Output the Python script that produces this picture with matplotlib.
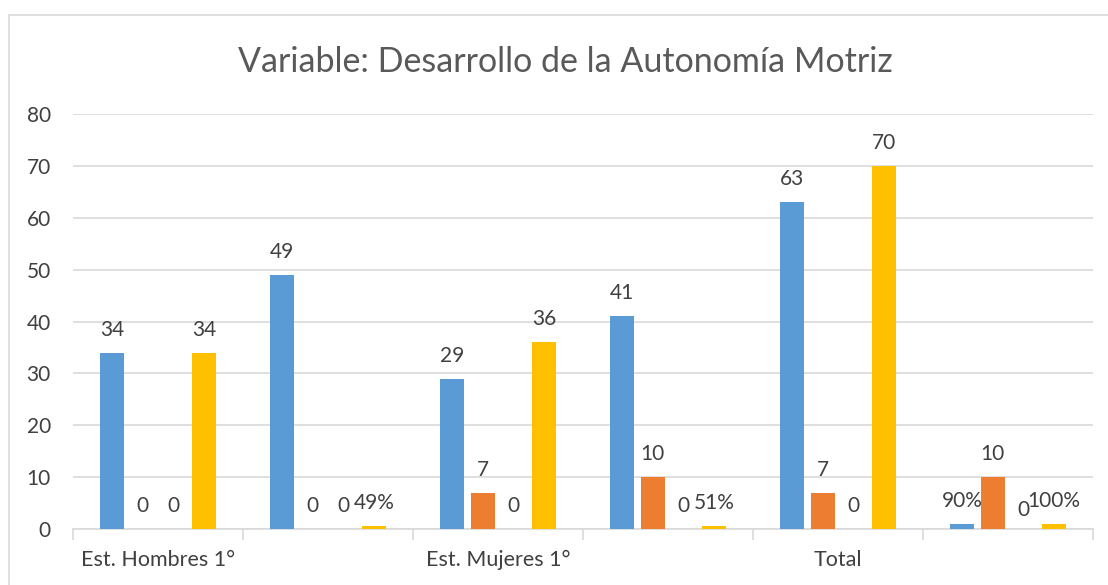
import matplotlib
matplotlib.use("Agg")
import matplotlib.pyplot as plt
from matplotlib.patches import Rectangle
import numpy as np

plt.rcParams['font.family'] = ['Lato', 'DejaVu Sans']

categories = ["Est. Hombres 1°", "", "Est. Mujeres 1°", "", "Total", ""]
series_names = ["Serie 1", "Serie 2", "Serie 3", "Serie 4"]
serie1 = [34, 49, 29, 41, 63, 0.90]
serie2 = [0, 0, 7, 10, 7, 10]
serie3 = [0, 0, 0, 0, 0, 0]
serie4 = [34, 0.49, 36, 0.51, 70, 1.00]
labels1 = ["34", "49", "29", "41", "63", "90%"]
labels2 = ["0", "0", "7", "10", "7", "10"]
labels3 = ["0", "0", "0", "0", "0", "0"]
labels4 = ["34", "49%", "36", "51%", "70", "100%"]
yticks = [0, 10, 20, 30, 40, 50, 60, 70, 80]
title = "Variable: Desarrollo de la Autonomía Motriz"

colors = ["#5B9BD5", "#ED7D31", "#A5A5A5", "#FFC000"]
series = [serie1, serie2, serie3, serie4]
labels = [labels1, labels2, labels3, labels4]

fs = 15
text_color = "#404040"

fig = plt.figure(figsize=(11.08, 5.85), dpi=100)
fig.patches.append(Rectangle((9/1108, -0.01), 1.2, 1 - 15/585 + 0.01,
                             transform=fig.transFigure, fill=False,
                             edgecolor="#D9D9D9", linewidth=1.2))
ax = fig.add_axes([73/1108, 1 - 529/585, (1093 - 73)/1108, (529 - 114)/585])

x = np.arange(len(categories))
slot = 30.7 / 170
width = 24 / 170
for i, (vals, labs, c) in enumerate(zip(series, labels, colors)):
    pos = x + (i - 1.5) * slot
    ax.bar(pos, vals, width=width, color=c, zorder=3)
    for j, (p, v, lab) in enumerate(zip(pos, vals, labs)):
        dy = 17
        if j == 5 and i == 2:
            dy = 13
        ax.annotate(lab, (p, v), xytext=(0, dy), textcoords="offset pixels",
                    ha="center", va="baseline", fontsize=fs, color=text_color,
                    zorder=4)

ax.set_xlim(-0.5, len(categories) - 0.5)
ax.set_ylim(0, 80)
ax.set_yticks(yticks)
ax.yaxis.grid(True, color="#D9D9D9", linewidth=1.2, zorder=0)
ax.set_axisbelow(True)
for s in ["top", "right", "left"]:
    ax.spines[s].set_visible(False)
ax.spines["bottom"].set_color("#D9D9D9")
ax.spines["bottom"].set_linewidth(1.2)
ax.tick_params(axis="y", length=0, pad=16, labelsize=fs, labelcolor=text_color)

# category labels
ax.set_xticks(x)
ax.set_xticklabels(categories)
ax.tick_params(axis="x", length=0, pad=15, labelsize=fs + 0.5, labelcolor=text_color)
# tick marks between categories
ax.set_xticks(np.arange(-0.5, len(categories), 1.0), minor=True)
ax.tick_params(axis="x", which="minor", length=8, width=1.2, color="#D9D9D9")

fig.text(565/1108, 1 - 62/585, title, ha="center", va="center",
         fontsize=24.5, color="#595959")

fig.savefig("out.png", dpi=100)
